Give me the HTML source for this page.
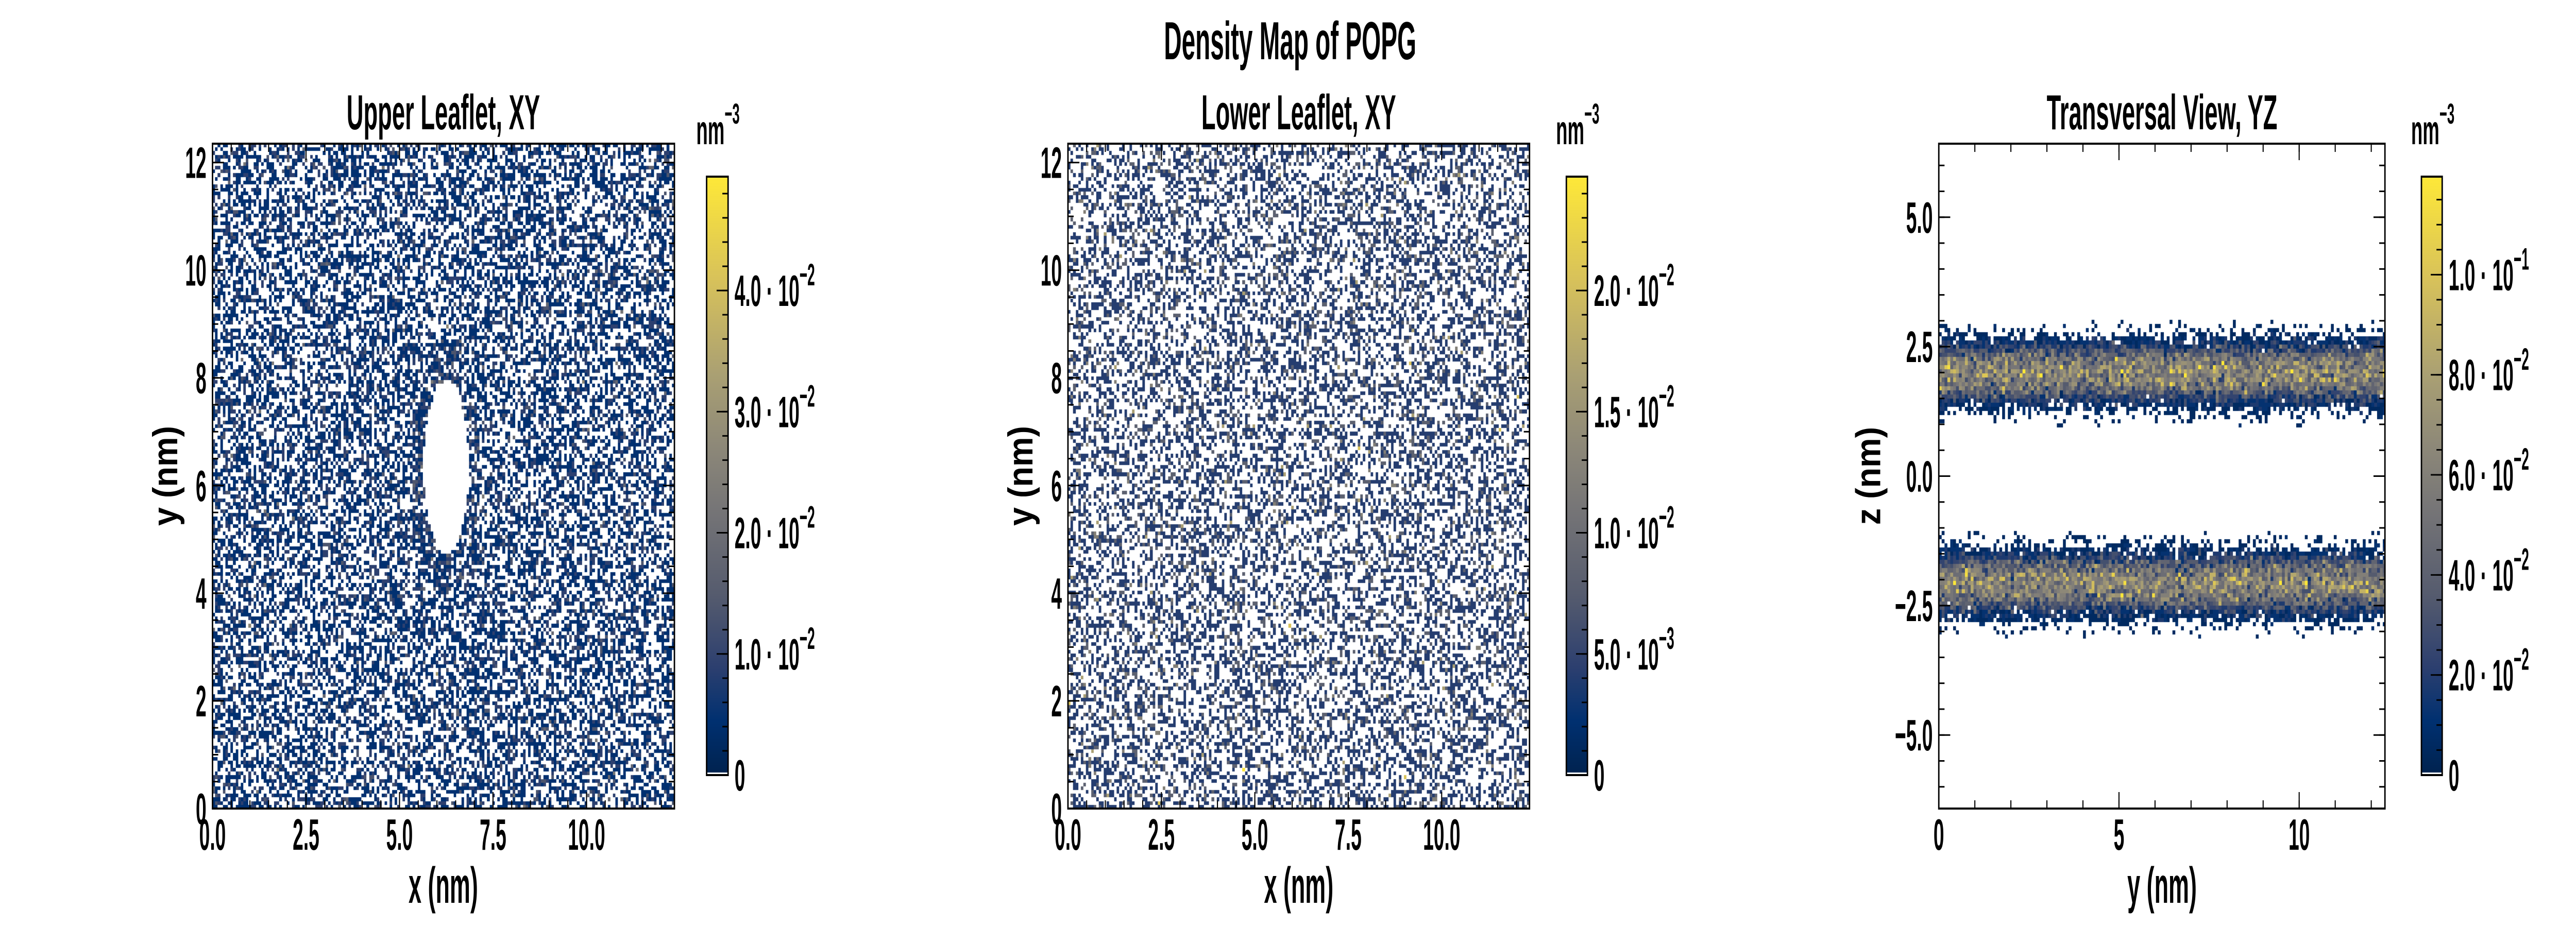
<!DOCTYPE html>
<html><head><meta charset="utf-8"><meta name="viewport" content="width=7200, height=1800, initial-scale=1">
<title>Density Map of POPG</title>
<style>
html,body{margin:0;padding:0;background:#fff;overflow:hidden;width:100vw;height:100vh;}
#wrap{position:absolute;left:0;top:0;width:100vw;height:100vh;overflow:hidden;background:#fff;}
#heat{position:absolute;left:0;top:0;width:100%;height:100%;display:block;}
#ov{position:absolute;left:0;top:0;width:100%;height:100%;display:block;}
text{font-family:"Liberation Sans",sans-serif;font-weight:bold;fill:#000;}
</style></head>
<body>
<div id="wrap">
<canvas id="heat" width="7200" height="1800"></canvas>
<svg id="ov" viewBox="0 0 7200 1800" preserveAspectRatio="none" xmlns="http://www.w3.org/2000/svg">
  <text transform="translate(3606,115) scale(0.66,1)" text-anchor="middle" font-size="104">Density Map of POPG</text>
  <text transform="translate(1239,251) scale(0.68,1)" text-anchor="middle" font-size="96">Upper Leaflet, XY</text>
  <text transform="translate(3630,251) scale(0.68,1)" text-anchor="middle" font-size="96">Lower Leaflet, XY</text>
  <text transform="translate(6043,251) scale(0.68,1)" text-anchor="middle" font-size="96">Transversal View, YZ</text>
  <text transform="translate(1239,1753) scale(0.66,1)" text-anchor="middle" font-size="98">x (nm)</text>
  <text transform="translate(3630,1753) scale(0.66,1)" text-anchor="middle" font-size="98">x (nm)</text>
  <text transform="translate(6043,1753) scale(0.66,1)" text-anchor="middle" font-size="98">y (nm)</text>
  <text transform="translate(495,924) rotate(-90) scale(0.66,1)" text-anchor="middle" font-size="98">y (nm)</text>
  <text transform="translate(2886,924) rotate(-90) scale(0.66,1)" text-anchor="middle" font-size="98">y (nm)</text>
  <text transform="translate(5255,924) rotate(-90) scale(0.66,1)" text-anchor="middle" font-size="98">z (nm)</text>
  <text transform="translate(1946,280) scale(0.66,1)" font-size="80">nm<tspan dy="-40" font-size="56">−3</tspan></text>
  <text transform="translate(4349,280) scale(0.66,1)" font-size="80">nm<tspan dy="-40" font-size="56">−3</tspan></text>
  <text transform="translate(6739,280) scale(0.66,1)" font-size="80">nm<tspan dy="-40" font-size="56">−3</tspan></text>
</svg>
</div>
<script>
// ---------- data ----------
const xyExtent = [0, 12.35];
const xyBins = [180];
const leafletMeanCounts = [0.75, 0.55];       // upper, lower
const leafletUnitDensity = [0.0045, 0.0041];  // nm^-3 per count
const holeCenter = [6.25, 6.35];
const holeRadii = [0.6, 1.6];
const holeRingMeanCount = [1.3];
const yzYExtent = [0, 12.38];
const yzZExtent = [-6.42, 6.42];
const yzBinSize = [0.08];
const bandCenters = [2.0, -2.08];
const profileOffsets = [0, 0.2, 0.35, 0.5, 0.6, 0.75, 0.9, 1.05];
const profileDensity = [0.066, 0.058, 0.042, 0.022, 0.012, 0.003, 0.001, 0];
const yzUnitDensity = [0.006];
const colorbarMax = [0.0494, 0.0247, 0.1196];
const xyXTicks = [0, 2.5, 5, 7.5, 10];
const xyXTickLabels = ["0.0", "2.5", "5.0", "7.5", "10.0"];
const xyYTicks = [0, 2, 4, 6, 8, 10, 12];
const xyYTickLabels = ["0", "2", "4", "6", "8", "10", "12"];
const yzXTicks = [0, 5, 10];
const yzXTickLabels = ["0", "5", "10"];
const yzYTicks = [-5, -2.5, 0, 2.5, 5];
const yzYTickLabels = ["−5.0", "−2.5", "0.0", "2.5", "5.0"];
const cb1Ticks = [0, 0.01, 0.02, 0.03, 0.04];
const cb1Mant = ["0", "1.0", "2.0", "3.0", "4.0"];
const cb1Exp = ["", "−2", "−2", "−2", "−2"];
const cb2Ticks = [0, 0.005, 0.01, 0.015, 0.02];
const cb2Mant = ["0", "5.0", "1.0", "1.5", "2.0"];
const cb2Exp = ["", "−3", "−2", "−2", "−2"];
const cb3Ticks = [0, 0.02, 0.04, 0.06, 0.08, 0.1];
const cb3Mant = ["0", "2.0", "4.0", "6.0", "8.0", "1.0"];
const cb3Exp = ["", "−2", "−2", "−2", "−2", "−1"];
const cbMinorStep = [0.002, 0.001, 0.005];

// ---------- layout ----------
const panels = [
  {L:594, R:1885, T:279, B:1570, x0:xyExtent[0], x1:xyExtent[1], y0:xyExtent[0], y1:xyExtent[1], cbL:1975, cbR:2035, name:'upper'},
  {L:2985, R:4275, T:279, B:1570, x0:xyExtent[0], x1:xyExtent[1], y0:xyExtent[0], y1:xyExtent[1], cbL:4378, cbR:4437, name:'lower'},
  {L:5419, R:6666, T:279, B:1570, x0:yzYExtent[0], x1:yzYExtent[1], y0:yzZExtent[0], y1:yzZExtent[1], cbL:6768, cbR:6826, name:'transversal'}
];
const CB_T = 343, CB_B = 1505;
function sx(p, v){ return p.L + (v - p.x0) / (p.x1 - p.x0) * (p.R - p.L); }
function sy(p, v){ return p.B - (v - p.y0) / (p.y1 - p.y0) * (p.B - p.T); }

// colormap (cividis-like)
const cmStops = [0, 0.09, 0.18, 0.3, 0.45, 0.55, 0.67, 0.83, 1];
const cmCols = ["#00224e", "#003070", "#2c3f6f", "#555b6e", "#777677", "#8d8878", "#aaa073", "#d8c25a", "#fee838"];
function hex(c){ return [parseInt(c.slice(1,3),16), parseInt(c.slice(3,5),16), parseInt(c.slice(5,7),16)]; }
const cmRGB = cmCols.map(hex);
function cmap(t){
  t = Math.max(0, Math.min(1, t));
  for (let i = 1; i < cmStops.length; i++) {
    if (t <= cmStops[i]) {
      const f = (t - cmStops[i-1]) / (cmStops[i] - cmStops[i-1]);
      const a = cmRGB[i-1], b = cmRGB[i];
      return 'rgb(' + Math.round(a[0]+(b[0]-a[0])*f) + ',' + Math.round(a[1]+(b[1]-a[1])*f) + ',' + Math.round(a[2]+(b[2]-a[2])*f) + ')';
    }
  }
  return cmCols[cmCols.length-1];
}

// deterministic texture generator
let seed = 12345;
function rnd(){ seed |= 0; seed = seed + 0x6D2B79F5 | 0; let t = Math.imul(seed ^ seed >>> 15, 1 | seed); t = t + Math.imul(t ^ t >>> 7, 61 | t) ^ t; return ((t ^ t >>> 14) >>> 0) / 4294967296; }
function pois(l){ if (l <= 0) return 0; const L = Math.exp(-l); let k = 0, p = 1; do { k++; p *= rnd(); } while (p > L); return k - 1; }

const ctx = document.getElementById('heat').getContext('2d');
ctx.imageSmoothingEnabled = false;

// XY leaflets
for (let pi = 0; pi < 2; pi++) {
  const p = panels[pi], n = xyBins[0];
  const bw = (xyExtent[1] - xyExtent[0]) / n;
  for (let i = 0; i < n; i++) for (let j = 0; j < n; j++) {
    const x = xyExtent[0] + (i + 0.5) * bw, y = xyExtent[0] + (j + 0.5) * bw;
    let lam = leafletMeanCounts[pi];
    if (pi === 0) {
      const d = Math.pow((x - holeCenter[0]) / holeRadii[0], 2) + Math.pow((y - holeCenter[1]) / holeRadii[1], 2);
      if (d < 1) lam = 0; else if (d < 2.2) lam = holeRingMeanCount[0];
    }
    const c = pois(lam);
    if (c > 0) {
      ctx.fillStyle = cmap(c * leafletUnitDensity[pi] / colorbarMax[pi]);
      const X1 = Math.round(sx(p, x - bw/2)), X2 = Math.round(sx(p, x + bw/2));
      const Y1 = Math.round(sy(p, y + bw/2)), Y2 = Math.round(sy(p, y - bw/2));
      ctx.fillRect(X1, Y1, X2 - X1, Y2 - Y1);
    }
  }
}
// YZ transversal
function profile(off){
  off = Math.abs(off);
  for (let i = 1; i < profileOffsets.length; i++) {
    if (off <= profileOffsets[i]) {
      const f = (off - profileOffsets[i-1]) / (profileOffsets[i] - profileOffsets[i-1]);
      return profileDensity[i-1] + (profileDensity[i] - profileDensity[i-1]) * f;
    }
  }
  return 0;
}
{
  const p = panels[2], b = yzBinSize[0];
  const ny = Math.ceil((yzYExtent[1] - yzYExtent[0]) / b), nz = Math.ceil((yzZExtent[1] - yzZExtent[0]) / b);
  for (let i = 0; i < ny; i++) for (let j = 0; j < nz; j++) {
    const y = yzYExtent[0] + (i + 0.5) * b, z = yzZExtent[0] + (j + 0.5) * b;
    let dens = 0;
    for (const c of bandCenters) dens += profile(z - c);
    const c = pois(dens / yzUnitDensity[0]);
    if (c > 0) {
      ctx.fillStyle = cmap(c * yzUnitDensity[0] / colorbarMax[2]);
      const X1 = Math.round(sx(p, y - b/2)), X2 = Math.min(p.R, Math.round(sx(p, y + b/2)));
      const Y1 = Math.max(p.T, Math.round(sy(p, z + b/2))), Y2 = Math.min(p.B, Math.round(sy(p, z - b/2)));
      ctx.fillRect(X1, Y1, X2 - X1, Y2 - Y1);
    }
  }
}
// colorbar gradients
for (const p of panels) {
  for (let y = CB_T; y < CB_B; y++) {
    ctx.fillStyle = cmap((CB_B - y) / (CB_B - CB_T));
    ctx.fillRect(p.cbL, y, p.cbR - p.cbL, 1);
  }
  ctx.fillStyle = '#fff';
  ctx.fillRect(p.cbL, CB_B - 5, p.cbR - p.cbL, 4);
}

// ---------- SVG overlay ----------
const NS = 'http://www.w3.org/2000/svg';
const svg = document.getElementById('ov');
function line(x1, y1, x2, y2, w, name){
  const l = document.createElementNS(NS, 'line');
  l.setAttribute('x1', x1); l.setAttribute('y1', y1); l.setAttribute('x2', x2); l.setAttribute('y2', y2);
  l.setAttribute('stroke', '#000'); l.setAttribute('stroke-width', w);
  
  
  svg.appendChild(l);
}
function label(x, y, str, anchor, name, sup){
  const t = document.createElementNS(NS, 'text');
  t.setAttribute('transform', 'translate(' + x + ',' + y + ') scale(0.63,1)');
  t.setAttribute('text-anchor', anchor);
  t.setAttribute('font-size', '85');
  t.textContent = str;
  if (sup) {
    const s = document.createElementNS(NS, 'tspan');
    s.setAttribute('dy', '-40'); s.setAttribute('font-size', '60');
    s.textContent = sup;
    t.appendChild(s);
  }
  
  
  svg.appendChild(t);
}
function range(a, b, s){ const r = []; for (let v = a; v <= b + 1e-9; v += s) r.push(+v.toFixed(6)); return r; }

panels.forEach((p, pi) => {
  const isYZ = pi === 2;
  const xt = isYZ ? yzXTicks : xyXTicks, xl = isYZ ? yzXTickLabels : xyXTickLabels;
  const yt = isYZ ? yzYTicks : xyYTicks, yl = isYZ ? yzYTickLabels : xyYTickLabels;
  const xminor = isYZ ? range(0, p.x1, 1) : range(0, p.x1, 0.5);
  const yminor = isYZ ? range(-6, 6, 0.5) : range(0, p.y1, 0.5);
  xminor.forEach(v => { const X = sx(p, v); line(X, p.B, X, p.B - 16, 3, 'x-minor-tick'); line(X, p.T, X, p.T + 16, 3, 'x-minor-tick'); });
  yminor.forEach(v => { const Y = sy(p, v); if (Y < p.T || Y > p.B) return; line(p.L, Y, p.L + 16, Y, 3, 'y-minor-tick'); line(p.R, Y, p.R - 16, Y, 3, 'y-minor-tick'); });
  xt.forEach((v, i) => { const X = sx(p, v); line(X, p.B, X, p.B - 32, 3, 'x-major-tick'); line(X, p.T, X, p.T + 32, 3, 'x-major-tick'); label(X, 1650, xl[i], 'middle', 'x-tick-label'); });
  yt.forEach((v, i) => { const Y = sy(p, v); line(p.L, Y, p.L + 32, Y, 3, 'y-major-tick'); line(p.R, Y, p.R - 32, Y, 3, 'y-major-tick'); label(p.L - 17, Y + 30, yl[i], 'end', 'y-tick-label'); });
  const r = document.createElementNS(NS, 'rect');
  r.setAttribute('x', p.L); r.setAttribute('y', p.T); r.setAttribute('width', p.R - p.L); r.setAttribute('height', p.B - p.T);
  r.setAttribute('fill', 'none'); r.setAttribute('stroke', '#000'); r.setAttribute('stroke-width', 4);
  
  
  svg.appendChild(r);

  // colorbar
  const cbT = [cb1Ticks, cb2Ticks, cb3Ticks][pi], cbM = [cb1Mant, cb2Mant, cb3Mant][pi], cbE = [cb1Exp, cb2Exp, cb3Exp][pi];
  const mx = colorbarMax[pi];
  const cy = v => CB_B - v / mx * (CB_B - CB_T);
  range(0, mx, cbMinorStep[pi]).forEach(v => line(p.cbR, cy(v), p.cbR - 16, cy(v), 3, 'colorbar-minor-tick'));
  cbT.forEach((v, i) => {
    line(p.cbR, cy(v), p.cbR - 32, cy(v), 3, 'colorbar-major-tick');
    label(p.cbR + 18, cy(v) + 30, cbM[i] + (cbE[i] ? ' · 10' : ''), 'start', 'colorbar-tick-label', cbE[i]);
  });
  const cr = document.createElementNS(NS, 'rect');
  cr.setAttribute('x', p.cbL); cr.setAttribute('y', CB_T); cr.setAttribute('width', p.cbR - p.cbL); cr.setAttribute('height', CB_B - CB_T);
  cr.setAttribute('fill', 'none'); cr.setAttribute('stroke', '#000'); cr.setAttribute('stroke-width', 4);
  
  
  svg.appendChild(cr);
});
</script>
</body></html>
